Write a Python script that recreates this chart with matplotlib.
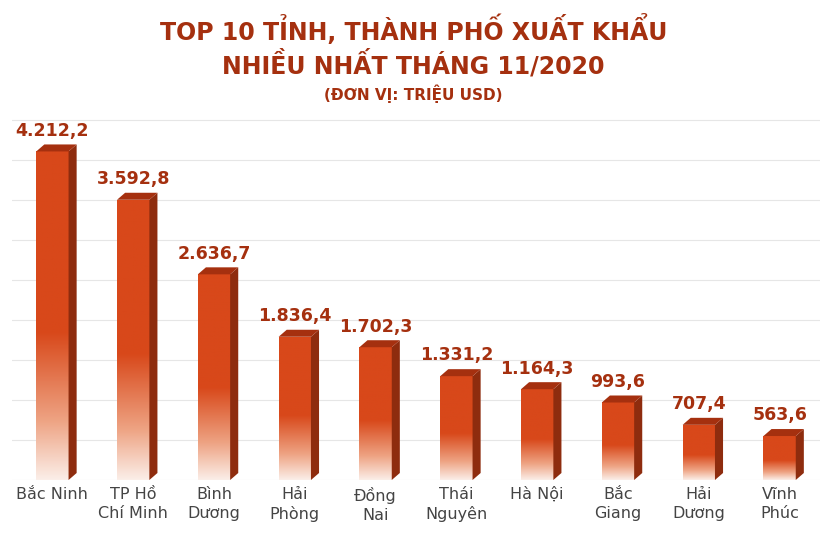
import matplotlib
matplotlib.use("Agg")
import matplotlib.pyplot as plt
import numpy as np
from matplotlib.patches import Rectangle, Polygon
from matplotlib.colors import LinearSegmentedColormap

categories = ["Bắc Ninh", "TP Hồ\nChí Minh", "Bình\nDương", "Hải\nPhòng", "Đồng\nNai",
              "Thái\nNguyên", "Hà Nội", "Bắc\nGiang", "Hải\nDương", "Vĩnh\nPhúc"]
values = [4212.2, 3592.8, 2636.7, 1836.4, 1702.3, 1331.2, 1164.3, 993.6, 707.4, 563.6]
labels = ["4.212,2", "3.592,8", "2.636,7", "1.836,4", "1.702,3", "1.331,2", "1.164,3", "993,6", "707,4", "563,6"]

scale = 0.078  # px per unit
fig = plt.figure(figsize=(8.27, 5.41), dpi=100)
ax = fig.add_axes([12/827, 61/541, 808/827, 400/541])
ax.set_xlim(-0.5, len(values) - 0.5)
ax.set_ylim(0, 400 / scale)
ax.axis("off")

step = 40 / scale
for k in range(10):
    g = k * step
    ax.plot([-0.5, len(values) - 0.5], [g, g], color="#e6e6e6", lw=0.8, zorder=0)

w = 0.4
dx, dy = 0.1, 7 / scale
red = "#d8481a"
cmap = LinearSegmentedColormap.from_list("g", [(0, "#fbeee8"), (0.18, "#eea383"), (0.45, red), (1, red)])
grad = np.linspace(0, 1, 256).reshape(-1, 1)
for i, v in enumerate(values):
    x0 = i - w / 2
    rect = Rectangle((x0, 0), w, v, facecolor="none", edgecolor="none", zorder=2)
    ax.add_patch(rect)
    im = ax.imshow(grad, cmap=cmap, origin="lower", aspect="auto",
                   extent=(x0, x0 + w, 0, v), zorder=2)
    im.set_clip_path(rect)
    ax.add_patch(Polygon([(x0 + w, 0), (x0 + w + dx, dy), (x0 + w + dx, v + dy), (x0 + w, v)],
                         closed=True, facecolor="#8e2c0e", edgecolor="none", zorder=2))
    ax.add_patch(Polygon([(x0, v), (x0 + w, v), (x0 + w + dx, v + dy), (x0 + dx, v + dy)],
                         closed=True, facecolor="#a5300f", edgecolor="none", zorder=2))
    ax.text(i, v + dy + 60, labels[i], ha="center", va="bottom", fontsize=12.5,
            fontweight="bold", color="#a5300f")
    ax.text(i, -90, categories[i], ha="center", va="top", fontsize=11.5,
            color="#444444", linespacing=1.3)

fig.text(0.5, 1 - 30/541, "TOP 10 TỈNH, THÀNH PHỐ XUẤT KHẨU", ha="center", va="center",
         fontsize=17, fontweight="bold", color="#a5300f")
fig.text(0.5, 1 - 64/541, "NHIỀU NHẤT THÁNG 11/2020", ha="center", va="center",
         fontsize=17, fontweight="bold", color="#a5300f")
fig.text(0.5, 1 - 94/541, "(ĐƠN VỊ: TRIỆU USD)", ha="center", va="center",
         fontsize=11, fontweight="bold", color="#a5300f")

fig.savefig("out.png", dpi=100)
